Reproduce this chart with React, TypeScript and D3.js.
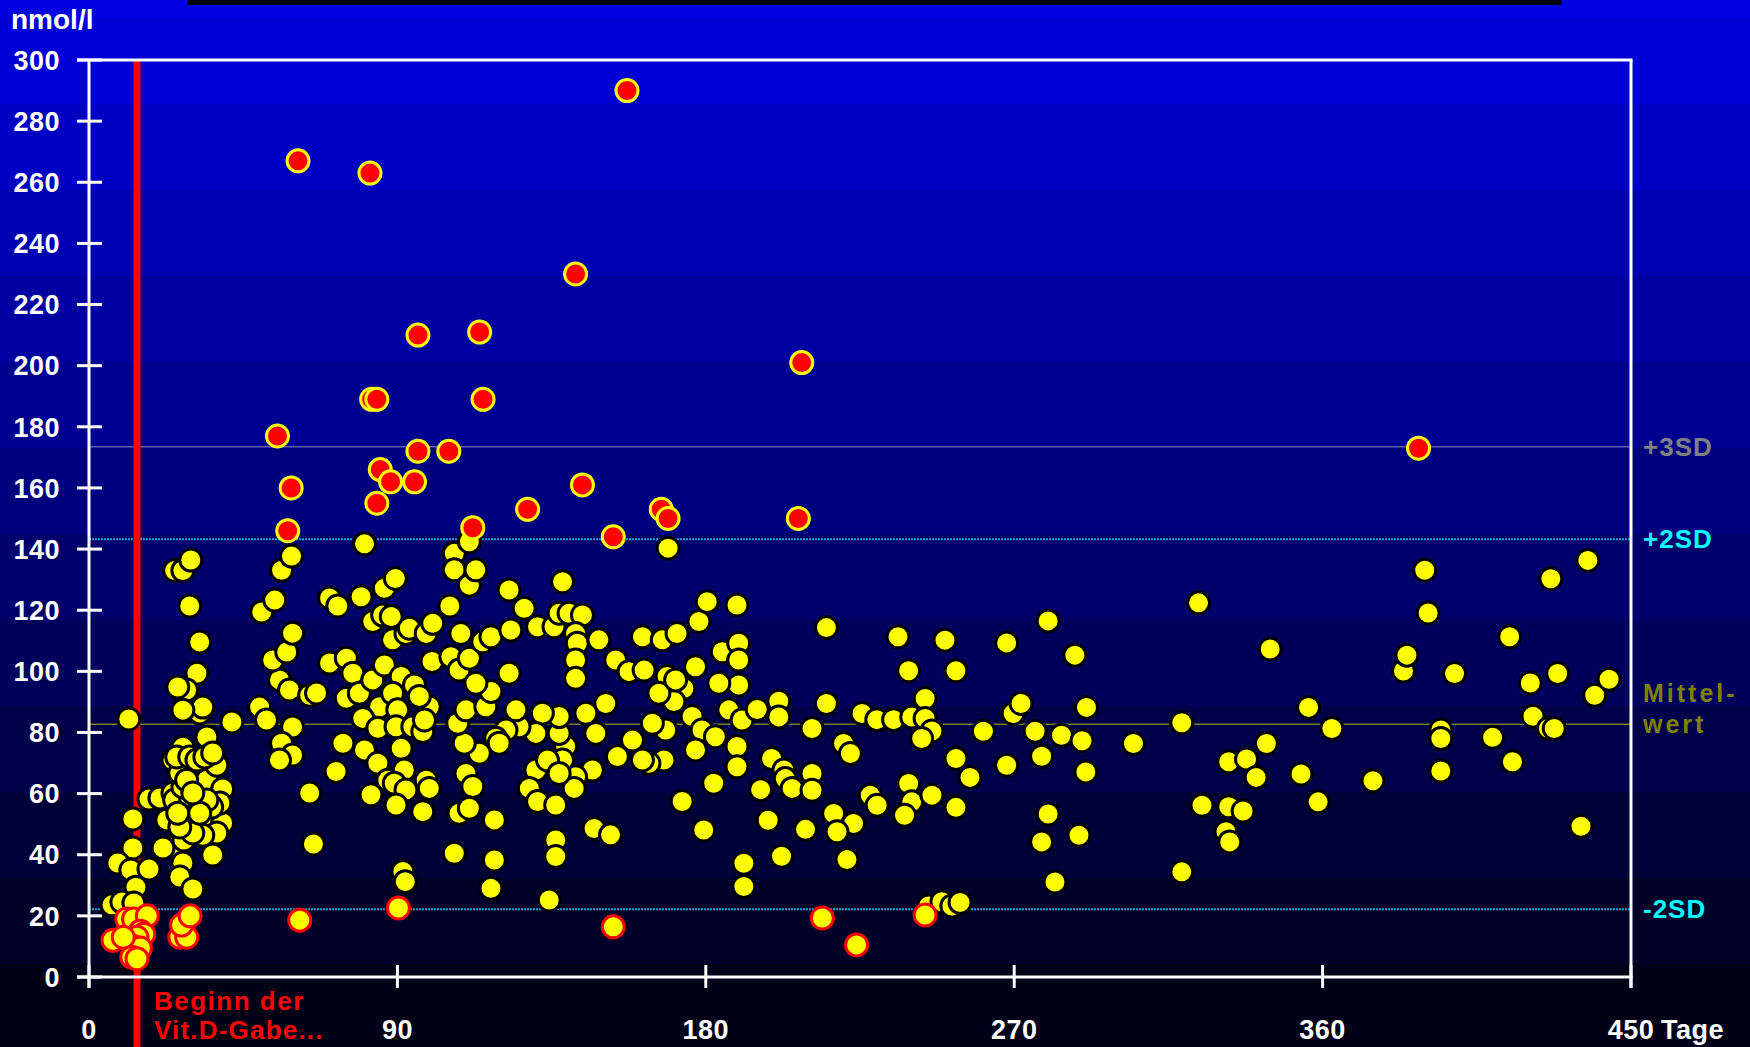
import React from 'react';
import * as d3 from 'd3';

// ---- data (day, nmol/l) ----
const normalPoints: [number, number][] = [
  [11.6,84.4],[12.8,51.7],[12.8,42.2],[8.4,37.3],[12.2,35],[17.5,35.3],[13.7,29.4],[6.7,23.6],[9.6,24.5],[13.1,24.2],
  [17.5,58.2],[20.7,58.6],[24.5,60.2],[22.7,51.4],[25,57.9],[24.5,42.5],[21.6,42.2],[27.4,37.3],[26.5,32.7],[30.3,28.8],
  [27.7,44.8],[29.7,57.9],[31.5,53.6],[35.2,52.3],[36.1,39.9],[39,50.4],[37.3,47.1],[33.2,46.4],[30.3,47.1],[26.5,49.1],
  [25.9,53.6],[27.4,62.2],[32.3,61.2],[34.4,64.4],[37.3,69.3],[39,61.5],[38.2,56.9],[35.8,55.6],[34.4,57.9],[32.3,53.6],
  [24.5,71],[26.5,66.7],[28.5,64.4],[30.3,60.2],[27.4,75.2],[25.6,72],[29.4,72],[31.5,71],[34.4,78.5],[33.8,72],
  [36.1,73.3],[32.3,86.4],[33.2,88.3],[31.5,99.4],[28.5,93.9],[25.9,94.9],[27.4,87.3],[32.3,109.6],[29.4,121.4],[41.7,83.4],
  [50.4,119.4],[54.2,123.3],[49.8,88.3],[51.8,84.1],[55.6,97.2],[53.6,103.7],[57.7,106.3],[59.4,112.5],[58.5,93.9],[59.4,81.8],
  [56.2,76.5],[59.4,72.6],[55.6,71],[64.4,60.2],[65.5,43.5],[64.4,92.2],[66.4,92.9],[70.2,102.7],[70.2,124],[25,133],
  [27.4,133],[29.7,136.4],[56.2,133.1],[59.1,137.7],
  [80.4,141.7],[72.6,121.4],[79.4,124.4],[86.2,127.2],[89.4,130.4],[82.8,116.3],[85.7,118.4],[88.2,117.9],[88.6,110.3],[92.5,112.4],
  [93.5,114.1],[98.4,112.4],[100.3,115.7],[105.3,121.4],[108.5,112.4],[106.6,138.6],[111,142.4],[106.6,133.2],[111,128.2],[112.9,133.2],
  [100.1,103.2],[105.6,104.8],[108,100.4],[111,104.3],[114.9,109.7],[117.3,111.3],[122.6,126.6],[127,120.6],[123.1,113.5],[130.9,114.6],
  [135.7,114.6],[138.2,129.3],[137.2,119],[140.1,119],[144,118.4],[142,112.4],[142.5,109.2],[142,103.7],[142,97.7],[148.8,110.3],
  [153.7,103.7],[157.6,99.9],[161.5,111.3],[162,100.4],[167.3,110.3],[171.6,112.4],[168.7,98.3],[177,101.5],[178,116.3],[180.4,122.8],
  [189.1,121.7],[184.8,106.4],[189.6,109.2],[189.6,103.7],[189.6,95.5],[183.8,96.1],[173.6,94.4],[170.7,90.1],[166.3,92.8],[171.2,97.2],
  [186.7,87.4],[190.6,84.1],[176,85.2],[178.9,80.8],[182.8,78.6],[177,74.3],[189.1,75.4],[189.1,68.8],[182.3,63.4],[173.1,57.4],
  [179.4,48.1],[191.1,37.2],[191.1,29.6],[168.3,80.8],[164.4,83],[167.8,71],[163.4,69.9],[161.5,71],[158.6,77.5],[154.2,72.1],
  [150.8,89.5],[147.9,79.7],[145,86.3],[146.9,67.7],[142,65.5],[141.6,61.7],[139.1,75.4],[138.2,71],[137.2,79.7],[137.2,85.2],
  [132.3,86.3],[130.4,79.7],[125.5,81.9],[124.6,87.4],[121.7,80.8],[118.7,78.1],[119.7,76.5],[113.9,73.2],[109.5,76.5],[107.6,83],
  [110,87.4],[115.8,88.4],[117.3,93.4],[112.9,96.1],[122.6,99.4],[130.4,67.7],[133.8,71],[137.2,66.6],[128.5,61.7],[130.9,57.4],
  [136.2,56.3],[110,66.6],[112,62.3],[108,53.6],[111,55.2],[118.3,51.4],[147.4,48.6],[152.2,46.5],[136.2,44.8],[136.2,39.4],
  [118.3,38.3],[117.3,29],[106.6,40.5],[91.6,34.5],[92.3,31.2],[134.3,25.2],[75.1,104.3],[77,99.4],[75.1,91.2],[78.9,92.8],
  [82.8,97.2],[86.2,102.1],[91.1,98.3],[95,95.5],[99.3,88.4],[96.4,91.8],[84.8,88.4],[88.6,92.8],[90.1,87.4],[79.9,84.6],
  [84.3,81.4],[89.6,81.9],[94.5,81.9],[97.4,80.3],[97.9,84.1],[74.1,76.5],[80.4,74.3],[72.1,67.2],[84.3,69.9],[91.1,74.8],
  [87.2,64.4],[92,67.7],[89.1,63.4],[92.5,61.2],[98.4,64.4],[99.3,61.7],[82.3,59.6],[89.6,56.3],[97.4,54.1],[169,140.3],
  [215.2,114.3],[236.1,111.3],[249.8,110.2],[267.8,109.3],[279.9,116.5],[287.7,105.3],[239.2,100.2],[253,100.2],[195,87.5],[201.3,90.2],
  [201.3,85.1],[215.2,89.5],[211,81.3],[225.6,86.2],[229.9,84.2],[234.8,84.2],[240.1,85.1],[244,91.1],[244,84.6],[246,80.5],
  [243,78],[261,80.4],[269.7,86.2],[272,89.5],[276.1,80.4],[283.8,79.1],[291.1,88.2],[289.8,77.3],[278,72.2],[290.9,67.1],
  [267.8,69.3],[253,71.5],[257.1,65.3],[220.2,76.4],[222.2,73.1],[199.2,71.5],[202.8,67.7],[203.2,64.9],[205.2,61.7],[211,66.6],
  [211,61.1],[196,61.3],[228,59.5],[230,56.2],[239.2,63.3],[240.1,57.3],[246,59.5],[238,52.9],[253,55.5],[217.3,53.5],
  [223.1,50.2],[218.3,47.5],[209.1,48.3],[198.2,51.3],[202.1,39.5],[221.2,38.4],[279.9,53.3],[278,44.2],[288.9,46.4],[281.9,31.1],
  [245,23.2],[248.9,24.6],[251.8,23.2],[254.2,24.4],
  [304.8,76.4],[318.9,83.2],[323.8,122.4],[318.9,34.4],[324.8,56.2],[332.6,70.4],[337.8,71.3],[343.6,76.4],[340.6,65.3],[332.6,55.7],
  [336.8,54.3],[331.8,47.5],[332.9,44.2],[344.7,107.3],[355.9,88.2],[353.7,66.4],[362.7,81.3],[358.7,57.3],[374.7,64.2],[383.6,100.1],
  [384.6,105.3],[389.8,133.1],[390.8,119.1],[398.5,99.3],[394.5,80.8],[394.5,78],[394.5,67.4],[414.6,111.3],[409.6,78.4],[420.6,96.2],
  [428.6,99.3],[421.4,85.3],[425.9,81.3],[427.6,81.3],[415.4,70.4],[426.6,130.3],[437.4,136.3],[439.4,92.2],[443.6,97.4],[435.4,49.3],
];

const highPoints: [number, number][] = [
  [157,290],[61,267],[82,263],[142,230],[96,210],[114,211],[208,201],[82.5,189],[84,189],[115,189],
  [55,177],[96,172],[105,172],[388,173],[85,166],[88,162],[95,162],[84,155],[59,160],[58,146],
  [128,153],[144,161],[167,153],[169,150],[207,150],[153,144],[112,147],
];

const lowPoints: [number, number][] = [
  [7,12],[11,19],[13,19],[17,20],[15,15],[16,14],[14,13],[13,10],[15,9.5],[12.5,6.5],
  [14,6],[10,13],[26.5,13],[28.5,13],[27,17],[29.5,20],[61.5,18.6],[90.3,22.6],[153,16.4],[214,19.3],
  [224,10.5],[244,20.3],
];

const yTickValues = [0,20,40,60,80,100,120,140,160,180,200,220,240,260,280,300];
const xTickValues = [0,90,180,270,360,450];
const xTickLabels = ['0','90','180','270','360','450'];
const refValues = [173.5, 143.2, 82.7, 22.2];
const refNames = ['+3SD', '+2SD', 'Mittelwert', '-2SD'];
const startDay = 14;

export default function App() {
  const W = 1750, H = 1047;
  const x = d3.scaleLinear().domain([0, 450]).range([89, 1631]);
  const y = d3.scaleLinear().domain([0, 300]).range([977, 60]);
  const bandEdges = [0, 18, 104, 190, 276, 362, 448, 534, 620, 706, 792, 878, 964, 1047];
  const col = d3.interpolateRgb('#0000e2', '#00000e');
  const x0 = x(0), x1 = x(450), yTop = y(300), yBot = y(0);
  const font = "'Liberation Sans', Arial, Helvetica, sans-serif";
  const R = 11;
  const refStyles = [
    { stroke: '#5c5ca8', dash: undefined, w: 1.5 },
    { stroke: '#1aa6d0', dash: '2,1', w: 2 },
    { stroke: '#7a7a10', dash: undefined, w: 1.5 },
    { stroke: '#1aa6d0', dash: '2,1', w: 2 },
  ];
  return (
    <svg width={W} height={H} style={{ position: 'absolute', left: 0, top: 0, display: 'block' }}
      fontFamily={font} fontWeight="bold">
      {bandEdges.slice(0, -1).map((e, i) => (
        <rect key={'b' + i} x={0} y={e} width={W} height={bandEdges[i + 1] - e}
          fill={col(((e + bandEdges[i + 1]) / 2) / H)} />
      ))}
      <rect x={187} y={0} width={1375} height={5} fill="#000" />

      {/* reference lines */}
      {refValues.map((v, i) => (
        <line key={'r' + i} x1={x0} x2={x1} y1={y(v)} y2={y(v)} stroke={refStyles[i].stroke}
          strokeWidth={refStyles[i].w} strokeDasharray={refStyles[i].dash} />
      ))}

      {/* start of vitamin D */}
      <rect x={x(startDay) - 3.5} y={yTop} width={7} height={H - yTop} fill="#ff0000" />

      {/* axes */}
      <line x1={x0} x2={x0} y1={yTop} y2={988} stroke="#fff" strokeWidth={3} />
      <line x1={77} x2={x1 + 1.5} y1={yTop} y2={yTop} stroke="#fff" strokeWidth={3} />
      <line x1={x1} x2={x1} y1={yTop} y2={988} stroke="#fff" strokeWidth={3} />
      <line x1={77} x2={x1 + 1.5} y1={yBot} y2={yBot} stroke="#fff" strokeWidth={3} />
      {yTickValues.map(v => (
        <g key={'yt' + v}>
          <line x1={77} x2={102} y1={y(v)} y2={y(v)} stroke="#fff" strokeWidth={3} />
          <text x={60} y={y(v)} dy="0.36em" textAnchor="end" fill="#fff" fontSize={27} letterSpacing={0.5}>{v}</text>
        </g>
      ))}
      {xTickValues.map((v, i) => (
        <g key={'xt' + v}>
          <line x1={x(v)} x2={x(v)} y1={965} y2={988} stroke="#fff" strokeWidth={3} />
          <text x={x(v)} y={1039} textAnchor="middle" fill="#fff" fontSize={27} letterSpacing={0.5}>{xTickLabels[i]}</text>
        </g>
      ))}
      <text x={x(450) + 30} y={1039} textAnchor="start" fill="#fff" fontSize={27} letterSpacing={0.5}>Tage</text>
      <text x={11} y={29} fill="#fff" fontSize={28}>nmol/l</text>

      {/* points */}
      {normalPoints.map((p, i) => (
        <circle key={'n' + i} cx={x(p[0])} cy={y(p[1])} r={R} fill="#ffff00" stroke="#000" strokeWidth={3} />
      ))}
      {highPoints.map((p, i) => (
        <circle key={'h' + i} cx={x(p[0])} cy={y(p[1])} r={R} fill="#ff0000" stroke="#ffff00" strokeWidth={3} />
      ))}
      {lowPoints.map((p, i) => (
        <circle key={'l' + i} cx={x(p[0])} cy={y(p[1])} r={R} fill="#ffff00" stroke="#ff0000" strokeWidth={3} />
      ))}

      {/* right labels */}
      <text x={1643} y={y(refValues[0]) + 9} fill="#808080" fontSize={26} letterSpacing={1}>{refNames[0]}</text>
      <text x={1643} y={y(refValues[1]) + 9} fill="#00ffff" fontSize={26} letterSpacing={1}>{refNames[1]}</text>
      <text x={1643} y={y(refValues[2]) - 22} fill="#808000" fontSize={25} letterSpacing={3}>Mittel-</text>
      <text x={1643} y={y(refValues[2]) + 9} fill="#808000" fontSize={25} letterSpacing={3}>wert</text>
      <text x={1643} y={y(refValues[3]) + 9} fill="#00ffff" fontSize={26} letterSpacing={1}>{refNames[3]}</text>

      <text x={154} y={1010} fill="#ff0000" fontSize={26} letterSpacing={1.5}>Beginn der</text>
      <text x={154} y={1039} fill="#ff0000" fontSize={26} letterSpacing={1.2}>Vit.D-Gabe...</text>
    </svg>
  );
}
